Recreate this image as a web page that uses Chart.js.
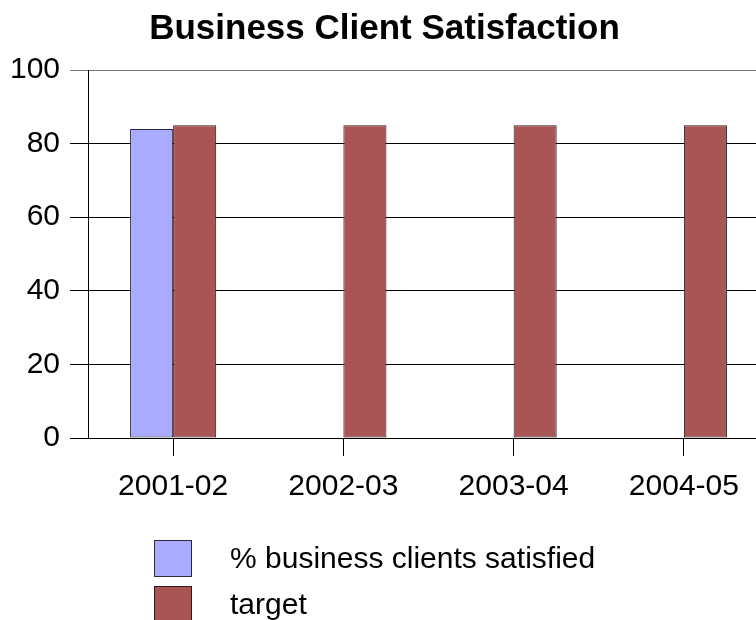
<!DOCTYPE html>
<html>
<head>
<meta charset="utf-8">
<title>Business Client Satisfaction</title>
<script src="https://cdn.jsdelivr.net/npm/chart.js@4/dist/chart.umd.min.js"></script>
<style>
  html, body { margin: 0; padding: 0; background: #fff; overflow: hidden; }
  #wrap { width: 774px; height: 620px; }
</style>
</head>
<body>
<div id="wrap"><canvas id="c" width="774" height="620"></canvas></div>
<script>
// Fiscal years on the category axis
const categories = ['2001-02', '2002-03', '2003-04', '2004-05'];
// Share of business clients satisfied (%), reported for 2001-02 only
const satisfiedValues = [84, null, null, null];
// Target level (%)
const targetValues = [85, 85, 85, 85];
// Value-axis tick labels
const yTickValues = [0, 20, 40, 60, 80, 100];

const FONT = "'Liberation Sans', Arial, sans-serif";

// Vertical legend drawn under the axis labels
const stackedLegend = {
  id: 'stackedLegend',
  afterDraw(chart) {
    const ctx = chart.ctx;
    const boxX = 154, boxW = 38, boxH = 37, top = 540, step = 46, textX = 230;
    ctx.save();
    ctx.font = '30px ' + FONT;
    ctx.textAlign = 'left';
    ctx.textBaseline = 'middle';
    chart.data.datasets.forEach((ds, i) => {
      const y = top + i * step;
      ctx.fillStyle = ds.backgroundColor;
      ctx.fillRect(boxX, y, boxW, boxH);
      ctx.strokeStyle = ds.borderColor;
      ctx.lineWidth = 1;
      ctx.strokeRect(boxX + 0.5, y + 0.5, boxW - 1, boxH - 1);
      ctx.fillStyle = '#000';
      ctx.fillText(ds.label, textX, y + boxH / 2 + 1);
    });
    ctx.restore();
  }
};

new Chart(document.getElementById('c'), {
  type: 'bar',
  data: {
    labels: categories,
    datasets: [
      {
        label: '% business clients satisfied',
        data: satisfiedValues,
        backgroundColor: '#aaaaff',
        borderColor: '#2a2a3a',
        borderWidth: 1,
        borderSkipped: false
      },
      {
        label: 'target',
        data: targetValues,
        backgroundColor: '#aa5555',
        borderColor: '#2a1a1a',
        borderWidth: 1,
        borderSkipped: false
      }
    ]
  },
  options: {
    responsive: false,
    animation: false,
    devicePixelRatio: 1,
    categoryPercentage: 86 / 170,
    barPercentage: 1,
    layout: { padding: { top: 0, left: 0, right: 5, bottom: 0 } },
    plugins: {
      legend: { display: false },
      tooltip: { enabled: false },
      title: {
        display: true,
        text: 'Business Client Satisfaction',
        color: '#000',
        font: { family: FONT, size: 35, weight: 'bold' },
        padding: { top: 8, bottom: 20 }
      }
    },
    scales: {
      x: {
        afterFit(scale) { scale.height = 182; },
        grid: {
          offset: false,
          drawOnChartArea: false,
          drawTicks: true,
          tickLength: 18,
          color: '#000',
          lineWidth: 1
        },
        border: { display: true, color: '#000', width: 1 },
        ticks: {
          color: '#000',
          font: { family: FONT, size: 30 },
          padding: 13,
          maxRotation: 0,
          autoSkip: false
        }
      },
      y: {
        min: 0,
        max: 100,
        afterFit(scale) { scale.width = 88; },
        afterBuildTicks(scale) { scale.ticks = yTickValues.map(v => ({ value: v })); },
        grid: {
          drawTicks: true,
          tickLength: 18,
          color: c => (c.tick && c.tick.value === 100) ? '#7a7a7a' : '#000',
          lineWidth: 1
        },
        border: { display: true, color: '#000', width: 1 },
        ticks: {
          color: '#000',
          font: { family: FONT, size: 30 },
          padding: 10
        }
      }
    }
  },
  plugins: [stackedLegend]
});
</script>
</body>
</html>
